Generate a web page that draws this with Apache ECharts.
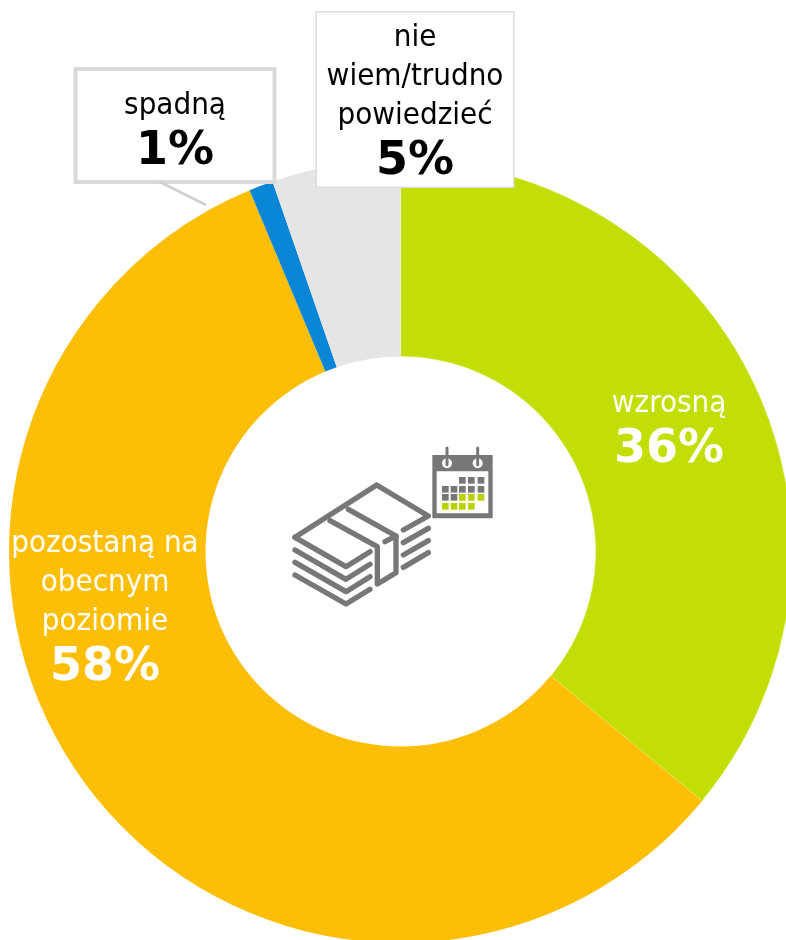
<!DOCTYPE html>
<html>
<head>
<meta charset="utf-8">
<style>html,body{margin:0;padding:0;background:#fff}#chart{width:786px;height:940px}</style>
<script src="https://cdn.jsdelivr.net/npm/echarts@6/dist/echarts.min.js"></script>
</head>
<body>
<div id="chart"></div>
<script>
var categories = ['wzrosną', 'pozostaną na\nobecnym\npoziomie', 'spadną', 'nie\nwiem/trudno\npowiedzieć'];
var values = [36, 57.7, 1, 5.3];
var percentLabels = ['36%', '58%', '1%', '5%'];
var colors = ['#C3DE04', '#FDBE06', '#0A86D6', '#E5E5E5'];

var regularFont = '"DejaVu Sans Condensed", "DejaVu Sans", sans-serif';
var boldFont = '"DejaVu Sans", sans-serif';
// label centres
var labelPos = [[669, 431], [105, 610], [175, 125.5], [415, 99.5]];
var labelColor = ['#fff', '#fff', '#000', '#000'];

function labelFor(i) {
    var c = labelColor[i];
    var l = {
        show: true,
        position: i < 2 ? 'inside' : 'outside',
        overflow: 'none',
        formatter: '{a|{b}}\n{b|' + percentLabels[i] + '}',
        rich: {
            a: { fontFamily: regularFont, fontSize: 31, lineHeight: 39, color: c, align: 'center' },
            b: { fontFamily: boldFont, fontWeight: 'bold', fontSize: 46, lineHeight: 54, color: c, align: 'center' }
        }
    };
    if (i === 2) {
        l.backgroundColor = '#fff';
        l.borderColor = '#D9D9D9';
        l.borderWidth = 4;
        l.width = 195;
        l.height = 94;
        l.padding = [15, 0, 0, 0];
        l.align = 'center';
    }
    if (i === 3) {
        l.backgroundColor = '#fff';
        l.borderColor = '#DDDDDD';
        l.borderWidth = 1.5;
        l.width = 196;
        l.height = 168;
        l.padding = [6, 0, 0, 0];
        l.align = 'center';
    }
    return l;
}

var data = categories.map(function (name, i) {
    var style = { color: colors[i] };
    if (i === 0) {
        // thin light seam next to the yellow slice
        style.borderColor = 'rgba(255,255,255,0.5)';
        style.borderWidth = 1;
    }
    return {
        name: name,
        value: values[i],
        itemStyle: style,
        label: labelFor(i),
        labelLine: { show: false }
    };
});

// icon lines, in 3x coords around (270,430)
var moneyLines = [
    [[75, 322], [320, 165], [475, 258], [400, 300]],
    [[75, 322], [228, 410], [300, 365]],
    [[75, 360], [228, 448], [300, 403]],
    [[75, 397], [228, 485], [300, 440]],
    [[75, 435], [228, 522], [300, 478]],
    [[400, 338], [475, 295]],
    [[400, 375], [475, 332]],
    [[400, 412], [475, 368]],
    [[180, 272], [322, 350], [322, 462], [378, 428], [378, 318], [235, 238]],
    [[345, 335], [378, 318]]
];
var cellX = [516, 542, 567, 594, 623];
var cellY = [141, 168, 192, 219];
var cells = [
    [0, 0, 1, 1, 1],
    [1, 1, 1, 1, 1],
    [1, 1, 2, 2, 2],
    [2, 2, 2, 2, 0]
];

var iconGray = '#777777';
var icon = [];
moneyLines.forEach(function (pts) {
    icon.push({
        type: 'polyline',
        shape: { points: pts },
        style: { stroke: iconGray, lineWidth: 16, fill: null, lineCap: 'round', lineJoin: 'round' }
    });
});
icon.push({ type: 'rect', shape: { x: 487, y: 75, width: 181, height: 190 }, style: { fill: iconGray } });
icon.push({ type: 'rect', shape: { x: 500, y: 124, width: 155, height: 126 }, style: { fill: '#fff' } });
[531, 623].forEach(function (x) {
    icon.push({ type: 'circle', shape: { cx: x, cy: 100, r: 15 }, style: { fill: '#fff' } });
    icon.push({
        type: 'line',
        shape: { x1: x, y1: 54, x2: x, y2: 104 },
        style: { stroke: iconGray, lineWidth: 9, lineCap: 'round' }
    });
});
cells.forEach(function (row, r) {
    row.forEach(function (v, c) {
        if (!v) return;
        icon.push({
            type: 'rect',
            shape: { x: cellX[c], y: cellY[r], width: 20, height: 20 },
            style: { fill: v === 2 ? '#BBD000' : iconGray }
        });
    });
});

var myChart = echarts.init(document.getElementById('chart'), null, { renderer: 'canvas' });
myChart.setOption({
    animation: false,
    backgroundColor: '#fff',
    series: [{
        type: 'pie',
        center: [400.5, 551.5],
        radius: [195, 391.5],
        startAngle: 90,
        clockwise: true,
        silent: true,
        avoidLabelOverlap: false,
        data: data,
        labelLayout: function (p) {
            var i = p.dataIndex;
            return { x: labelPos[i][0], y: labelPos[i][1], align: 'center', verticalAlign: 'middle' };
        }
    }],
    graphic: [
        {
            type: 'line',
            z: 1,
            zlevel: 1,
            shape: { x1: 160, y1: 182, x2: 206, y2: 205 },
            style: { stroke: '#D0D0D0', lineWidth: 3 }
        },
        { type: 'group', x: 270, y: 430, scaleX: 1 / 3, scaleY: 1 / 3, children: icon }
    ]
});
</script>
</body>
</html>
